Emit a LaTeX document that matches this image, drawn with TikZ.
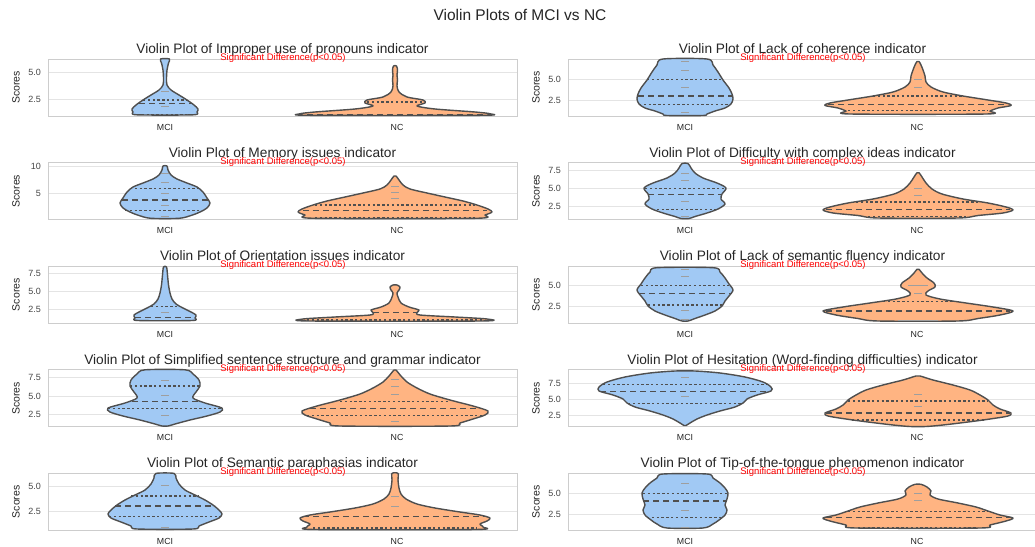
\documentclass[tikz,border=0pt]{standalone}
\usepackage{fontspec}
\setmainfont{Liberation Sans}
\usetikzlibrary{positioning}

\definecolor{mcicol}{HTML}{A1C9F4}
\definecolor{nccol}{HTML}{FFB482}
\definecolor{edgecol}{HTML}{4F4F4F}
\definecolor{gridcol}{HTML}{E4E4E4}
\definecolor{textcol}{HTML}{262626}

% one violin: centre x, fill, right half outline y/w, inner lines y/w/style
\newcommand\violin[4]{%
  \gdef\rpts{}\gdef\lpts{}%
  \foreach \yy/\ww in {#3}{%
    \xdef\rpts{\rpts (#1+\ww,\yy)}%
    \xdef\lpts{(#1-\ww,\yy)\lpts}%
  }%
  \edef\tmp{\noexpand\draw[violin,fill=#2] plot[smooth cycle,tension=0.5] coordinates {\rpts\lpts};}%
  \tmp
  \foreach \yy/\ww/\st in {#4}{\draw[\st] (#1-\ww,\yy) -- (#1+\ww,\yy);}%
}

% one panel: id, left x, top y, title, ticks v/y
\newcommand\panel[5]{%
  \foreach \v/\yy [count=\k] in {#5}{%
    \draw[grid] (#2,\yy) -- (#2+469,\yy);
    \node[tick] (tk#1\k) at (#2-7,\yy) {\v};
  }
  \draw[frame] (#2,#3) rectangle (#2+469,#3+57);
  \node[ptitle] (title#1) at (#2+234.5,#3-5.5) {#4};
  \node[sig] (sig#1) at (#2+235,#3+1.5) {Significant Difference(p<0.05)};
  \node[ylab] (ylab#1) at (#2-32,#3+28.5) {Scores};
  \node[xlab] (mci#1) at (#2+117,#3+68) {MCI};
  \node[xlab] (nc#1) at (#2+349,#3+68) {NC};
}

\begin{document}
\begin{tikzpicture}[x=1pt,y=-1pt,
  grid/.style={draw=gridcol,line width=1pt},
  frame/.style={draw=gridcol!90!black,line width=0.9pt},
  violin/.style={draw=edgecol,line width=1.4pt,line join=round},
  mline/.style={draw=edgecol,line width=1.2pt,dash pattern=on 6pt off 4pt},
  qline/.style={draw=edgecol,line width=1.1pt,dash pattern=on 2.4pt off 2.4pt},
  pmark/.style={draw=edgecol!55,line width=1pt},
  mtitle/.style={font=\fontsize{15.5}{18}\selectfont,text=textcol,anchor=base},
  ptitle/.style={font=\fontsize{13.7}{16}\selectfont,text=textcol,anchor=base,inner sep=0pt},
  sig/.style={font=\fontsize{9.5}{11}\selectfont,text=red,anchor=base,inner sep=0pt},
  tick/.style={font=\fontsize{9}{10}\selectfont,text=textcol!85,anchor=east,inner sep=0pt},
  ylab/.style={font=\fontsize{10.5}{12}\selectfont,text=textcol,rotate=90,inner sep=0pt},
  xlab/.style={font=\fontsize{8.8}{10}\selectfont,text=textcol,inner sep=0pt}]

\useasboundingbox (0,0) rectangle (1035,546);
\fill[white] (0,0) rectangle (1035,546);
\clip (0,0) rectangle (1035,546);

\node[mtitle] (main) at (520,20) {Violin Plots of MCI vs NC};

% panels
\panel{a}{48}{59}{Violin Plot of Improper use of pronouns indicator}{5.0/72.7,2.5/99.3}
\panel{b}{568}{59}{Violin Plot of Lack of coherence indicator}{5.0/79.3,2.5/100.7}
\panel{c}{48}{162.6}{Violin Plot of Memory issues indicator}{10/166,5/193.3}
\panel{d}{568}{162.6}{Violin Plot of Difficulty with complex ideas indicator}{7.5/170,5.0/188.3,2.5/206.7}
\panel{e}{48}{266.2}{Violin Plot of Orientation issues indicator}{7.5/273.3,5.0/291,2.5/309.3}
\panel{f}{568}{266.2}{Violin Plot of Lack of semantic fluency indicator}{5.0/285.3,2.5/306.7}
\panel{g}{48}{369.8}{Violin Plot of Simplified sentence structure and grammar indicator}{7.5/377.3,5.0/396,2.5/414}
\panel{h}{568}{369.8}{Violin Plot of Hesitation (Word-finding difficulties) indicator}{7.5/383.3,5.0/399.2,2.5/415}
\panel{i}{48}{473.4}{Violin Plot of Semantic paraphasias indicator}{5.0/486,2.5/511.7}
\panel{j}{568}{473.4}{Violin Plot of Tip-of-the-tongue phenomenon indicator}{5.0/493.3,2.5/514}

% violins, row 1
\violin{165}{mcicol}{59/4.5,63/3.5,70/2,78/1.5,85/2,90/6,95/14,100/22,105/29,109/33,112/32,114.8/28}
  {91.7/4/pmark,100/22/qline,103.3/26/mline,106.7/4/pmark,114.3/28/qline}
\violin{395}{nccol}{66/1.5,70/2.5,75/2,80/2.5,86/2,92/4,97/12,100/28,103/30,106/22,109/40,112/80,113.8/95,115.3/85}
  {102/28/qline,114.3/88/mline}
\violin{685}{mcicol}{59/22,65/28,72/33,80/38,88/44,94/47,99/48,104/46,108/40,111/30,114/22,115.5/18}
  {61.7/4/pmark,70.7/4/pmark,79.3/38/qline,87.3/4/pmark,96/47/mline,104.3/46/qline,112.7/4/pmark}
\violin{918}{nccol}{61.5/1,65/3,70/5,76/7,82/8,87/13,92/25,96/45,100/70,103/88,105.5/93,108/80,111/72,114/68}
  {79.3/4/pmark,87.3/4/pmark,96/45/qline,104.5/90/mline,110.5/70/qline}

% row 2
\violin{165}{mcicol}{166/2,170/3,175/6,179/12,183/22,187/32,192/38,198/42,203/45,208/42,212/35,215.5/26,218.3/14}
  {173.3/4/pmark,182.3/4/pmark,188.3/35/qline,193.3/4/pmark,200/43/mline,205/4/pmark,210.7/40/qline,216.7/4/pmark}
\violin{395}{nccol}{176/1,180/4,185/8,189/15,193/32,197/50,201/68,205/82,209/93,212/97,215/90,218.3/80}
  {186.7/4/pmark,192.7/4/pmark,198.3/4/pmark,205/80/qline,210.7/92/mline,217.5/80/qline}
\violin{685}{mcicol}{163.5/3,168/6,173/10,178/18,183/32,188/41,194/37,199/36,204/40,209/33,213/22,216.5/10,218.5/4}
  {173.3/4/pmark,180.7/4/pmark,188.3/40/qline,194.3/37/mline,201.7/4/pmark,209.3/33/qline,216.7/4/pmark}
\violin{918}{nccol}{172.7/1,177/4,183/8,189/14,194/24,199/45,203/70,207/88,210/95,213/85,215.5/60,218/40}
  {188.3/4/pmark,195/4/pmark,202/62/qline,209.3/92/mline,216.5/50/qline}

% row 3
\violin{165}{mcicol}{267/1.5,275/2.5,285/3.5,293/5,299/7,304/11,308/18,312/26,315/31,318/30,320.5/27}
  {306.7/14/qline,312/4/pmark,317.3/30/mline,320.5/27/qline}
\violin{395}{nccol}{285/2,287/5,290/4,293/2,297/3,303/6,307/14,310/24,312.5/22,315/25,317/60,319/92,321/85}
  {312.7/22/mline,320/88/qline}
\violin{685}{mcicol}{267.7/28,272/35,278/40,284/44,290/48,296/44,301/40,306/37,311/30,315/20,318.5/10,321/3}
  {269.3/4/pmark,276.7/4/pmark,285.3/44/qline,293.3/46/mline,305/37/qline,310.7/4/pmark,319.5/4/pmark}
\violin{918}{nccol}{269.3/1,273/4,278/9,283/16,287/17,291/10,295/8,299/22,303/48,307/75,311/95,315/82,318.5/60,321/40}
  {285/10/pmark,293.3/4/pmark,301.7/35/qline,311/92/mline,320/20/pmark}

% row 4
\violin{165}{mcicol}{369.8/20,374/28,380/34,386/35,392/31,398/28,403/40,408/57,412/55,416/42,420/25,424/10,426/3}
  {380/4/pmark,386/35/qline,395/4/pmark,401.7/33/mline,408.3/57/qline,415/4/pmark}
\violin{395}{nccol}{370/1,376/6,382/12,388/22,394/35,400/55,406/78,411/93,415/90,419/78,423/65,426/55}
  {379.3/4/pmark,386.7/4/pmark,394/4/pmark,401.7/55/qline,408.3/85/mline,415.3/88/qline,421.7/4/pmark}
\violin{685}{mcicol}{371/10,373/35,377/60,382/78,387/86,391/86,395/72,399/62,403/58,407/50,411/35,415/22,419/12,423/5,425.5/1}
  {377.7/4/pmark,384.3/82/qline,391.7/85/mline,396.7/4/pmark,403.3/57/qline}
\violin{918}{nccol}{376/2,380/15,385/35,390/52,395/62,400/70,405/75,409/82,413/93,416/90,419/72,422/50,425/25,426.5/8}
  {394.3/4/pmark,401/70/qline,406.7/4/pmark,413/92/mline,420/66/qline}

% row 5
\violin{165}{mcicol}{473.4/9,478/11,484/14,490/20,495/30,500/40,505/48,510/54,514/57,518/54,522/44,526/34,529/28}
  {485/4/pmark,496/34/qline,506/50/mline,516.7/56/qline,527.3/4/pmark}
\violin{395}{nccol}{473.4/3,480/3,488/4,494/6,499/11,504/22,508/40,512/65,515/85,518/95,521/92,524/85,527/88,529.5/80}
  {496.7/4/pmark,506/4/pmark,516.7/92/mline,528/82/qline}
\violin{685}{mcicol}{474/22,478/28,483/35,488/40,493/43,499/42,505/40,510/42,515/40,520/34,524/28,528/18}
  {483.3/4/pmark,493.3/42/qline,501/42/mline,510/4/pmark,517.7/38/qline,527/4/pmark}
\violin{918}{nccol}{484.3/3,487/9,491/13,495/12,499/20,503/40,507/58,511/70,515/82,518/95,521/88,525/72,528/62}
  {493.3/4/pmark,500/4/pmark,511.7/70/qline,517.7/92/mline,527.7/60/qline}

\end{tikzpicture}
\end{document}
